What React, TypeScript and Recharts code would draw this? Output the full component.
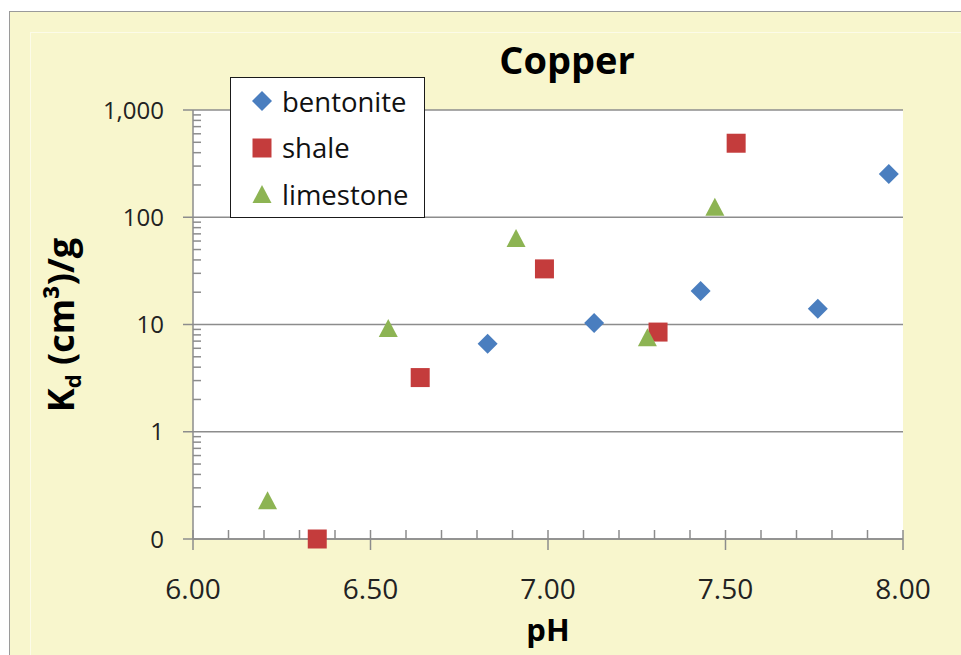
import React from "react";
import {
  ScatterChart,
  Scatter,
  XAxis,
  YAxis,
  CartesianGrid,
  Legend,
} from "recharts";

// Kd values (cm3/g) against pH for each material
const bentonitePH = [6.83, 7.13, 7.43, 7.76, 7.96];
const bentoniteKd = [6.6, 10.3, 20.5, 14, 253];
const shalePH = [6.35, 6.64, 6.99, 7.31, 7.53];
const shaleKd = [0.1, 3.2, 33, 8.5, 490];
const limestonePH = [6.21, 6.55, 6.91, 7.28, 7.47];
const limestoneKd = [0.23, 9.3, 64, 7.6, 125];

const xTicks = [6, 6.5, 7, 7.5, 8];
const xAllTicks = [
  6, 6.1, 6.2, 6.3, 6.4, 6.5, 6.6, 6.7, 6.8, 6.9, 7, 7.1, 7.2, 7.3, 7.4, 7.5,
  7.6, 7.7, 7.8, 7.9, 8,
];
const yTicks = [0.1, 1, 10, 100, 1000];
const decades = [0.1, 1, 10, 100];
const steps = [2, 3, 4, 5, 6, 7, 8, 9];
const yMinorTicks = decades.flatMap((d) => steps.map((s) => +(d * s).toPrecision(3)));
const yAllTicks = [...yTicks, ...yMinorTicks].sort((a, b) => a - b);

const toPoints = (ph: number[], kd: number[]) =>
  ph.map((p, i) => ({ ph: p, kd: kd[i] }));

const FONT = "'Open Sans', 'DejaVu Sans', sans-serif";
const GRID = "#8c8c8c";

type Marker = "diamond" | "square" | "triangle";

const markerPath = (kind: Marker, cx: number, cy: number) => {
  if (kind === "diamond")
    return `M${cx},${cy - 10}L${cx + 10},${cy}L${cx},${cy + 10}L${cx - 10},${cy}Z`;
  if (kind === "square")
    return `M${cx - 9.5},${cy - 9.5}h19v19h-19Z`;
  return `M${cx},${cy - 9}L${cx + 9.5},${cy + 9}L${cx - 9.5},${cy + 9}Z`;
};

const series = [
  { name: "bentonite", color: "#4a7ebf", marker: "diamond" as Marker, data: toPoints(bentonitePH, bentoniteKd) },
  { name: "shale", color: "#c43c3c", marker: "square" as Marker, data: toPoints(shalePH, shaleKd) },
  { name: "limestone", color: "#8db453", marker: "triangle" as Marker, data: toPoints(limestonePH, limestoneKd) },
];

const near = (list: number[], v: number) => list.some((t) => Math.abs(t - v) < 1e-6);

// pH axis: major ticks cross the axis and carry a label, minor ticks point up
const PhTick = ({ x, y, payload }: any) => {
  const major = near(xTicks, payload.value);
  return (
    <g>
      <line x1={x} x2={x} y1={y - 9} y2={major ? y + 11 : y} stroke={GRID} strokeWidth={1.5} />
      {major && (
        <text x={x} y={y + 60} textAnchor="middle" fontSize={28} fontFamily={FONT} fill="#222">
          {payload.value.toFixed(2)}
        </text>
      )}
    </g>
  );
};

// Kd axis: decades get an outer tick and label, the rest short inner ticks
const KdTick = ({ x, y, payload }: any) => {
  const major = near(yTicks, payload.value);
  const v = payload.value;
  return (
    <g>
      {major ? (
        <line x1={x - 10} x2={x} y1={y} y2={y} stroke={GRID} strokeWidth={1.5} />
      ) : (
        <line x1={x} x2={x + 8} y1={y} y2={y} stroke={GRID} strokeWidth={1.5} />
      )}
      {major && (
        <text x={x - 29} y={y + 8.5} textAnchor="end" fontSize={24} fontFamily={FONT} fill="#222">
          {v < 1 ? "0" : v.toLocaleString("en-US")}
        </text>
      )}
    </g>
  );
};

const LegendBox = () => (
  <div
    style={{
      width: 193,
      height: 139,
      border: "1.5px solid #1a1a1a",
      background: "#fff",
      boxSizing: "content-box",
      fontFamily: FONT,
    }}
  >
    {series.map((s) => (
      <div
        key={s.name}
        style={{ height: 46.5, display: "flex", alignItems: "center" }}
      >
        <svg width={42} height={30} style={{ flex: "none", marginLeft: 9 }}>
          <path d={markerPath(s.marker, 22, 15)} fill={s.color} />
        </svg>
        <span style={{ fontSize: 27.5, color: "#111" }}>{s.name}</span>
      </div>
    ))}
  </div>
);

export default function App() {
  return (
    <div
      style={{
        position: "absolute",
        left: 0,
        top: 0,
        width: 961,
        height: 655,
        background: "#fff",
        overflow: "hidden",
        fontFamily: FONT,
      }}
    >
      <div
        style={{
          position: "absolute",
          left: 9,
          top: 11,
          width: 980,
          height: 700,
          background: "#f8f6cd",
          border: "1px solid #9a9a9a",
        }}
      />
      <div
        style={{
          position: "absolute",
          left: 30,
          top: 32,
          width: 960,
          height: 680,
          border: "1px solid rgba(255,255,255,0.55)",
        }}
      />
      <div style={{ position: "absolute", left: 0, top: 0 }}>
        <ScatterChart
          width={961}
          height={655}
          margin={{ top: 110, right: 58, bottom: 56, left: 133 }}
        >
          <CartesianGrid
            vertical={false}
            horizontalValues={yTicks}
            fill="#fff"
            stroke={GRID}
            strokeWidth={1.5}
          />
          <XAxis
            type="number"
            dataKey="ph"
            domain={[6, 8]}
            ticks={xAllTicks}
            interval={0}
            tickLine={false}
            tickSize={0}
            tickMargin={0}
            height={60}
            stroke={GRID}
            strokeWidth={1.5}
            tick={PhTick}
          />
          <YAxis
            type="number"
            dataKey="kd"
            scale="log"
            domain={[0.1, 1000]}
            ticks={yAllTicks}
            interval={0}
            tickLine={false}
            tickSize={0}
            tickMargin={0}
            width={60}
            stroke={GRID}
            strokeWidth={1.5}
            tick={KdTick}
          />
          {series.map((s) => (
            <Scatter
              key={s.name}
              name={s.name}
              data={s.data}
              fill={s.color}
              isAnimationActive={false}
              shape={(p: any) => (
                <path d={markerPath(s.marker, p.cx, p.cy)} fill={s.color} />
              )}
            />
          ))}
          <Legend
            layout="vertical"
            align="center"
            verticalAlign="middle"
            wrapperStyle={{ left: 230, top: 77, width: 196, height: 142 }}
            content={() => <LegendBox />}
          />
          <text
            x={567}
            y={74}
            textAnchor="middle"
            fontFamily={FONT}
            fontWeight={700}
            fontSize={38}
            fill="#000"
          >
            Copper
          </text>
          <text
            x={548}
            y={641}
            textAnchor="middle"
            fontFamily={FONT}
            fontWeight={700}
            fontSize={31}
            fill="#000"
          >
            pH
          </text>
          <text
            transform="translate(74,325) rotate(-90)"
            textAnchor="middle"
            fontFamily={FONT}
            fontWeight={700}
            fontSize={36}
            fill="#000"
          >
            K
            <tspan fontSize={22} dy={7}>
              d
            </tspan>
            <tspan dy={-7}> (cm³)/g</tspan>
          </text>
        </ScatterChart>
      </div>
    </div>
  );
}
